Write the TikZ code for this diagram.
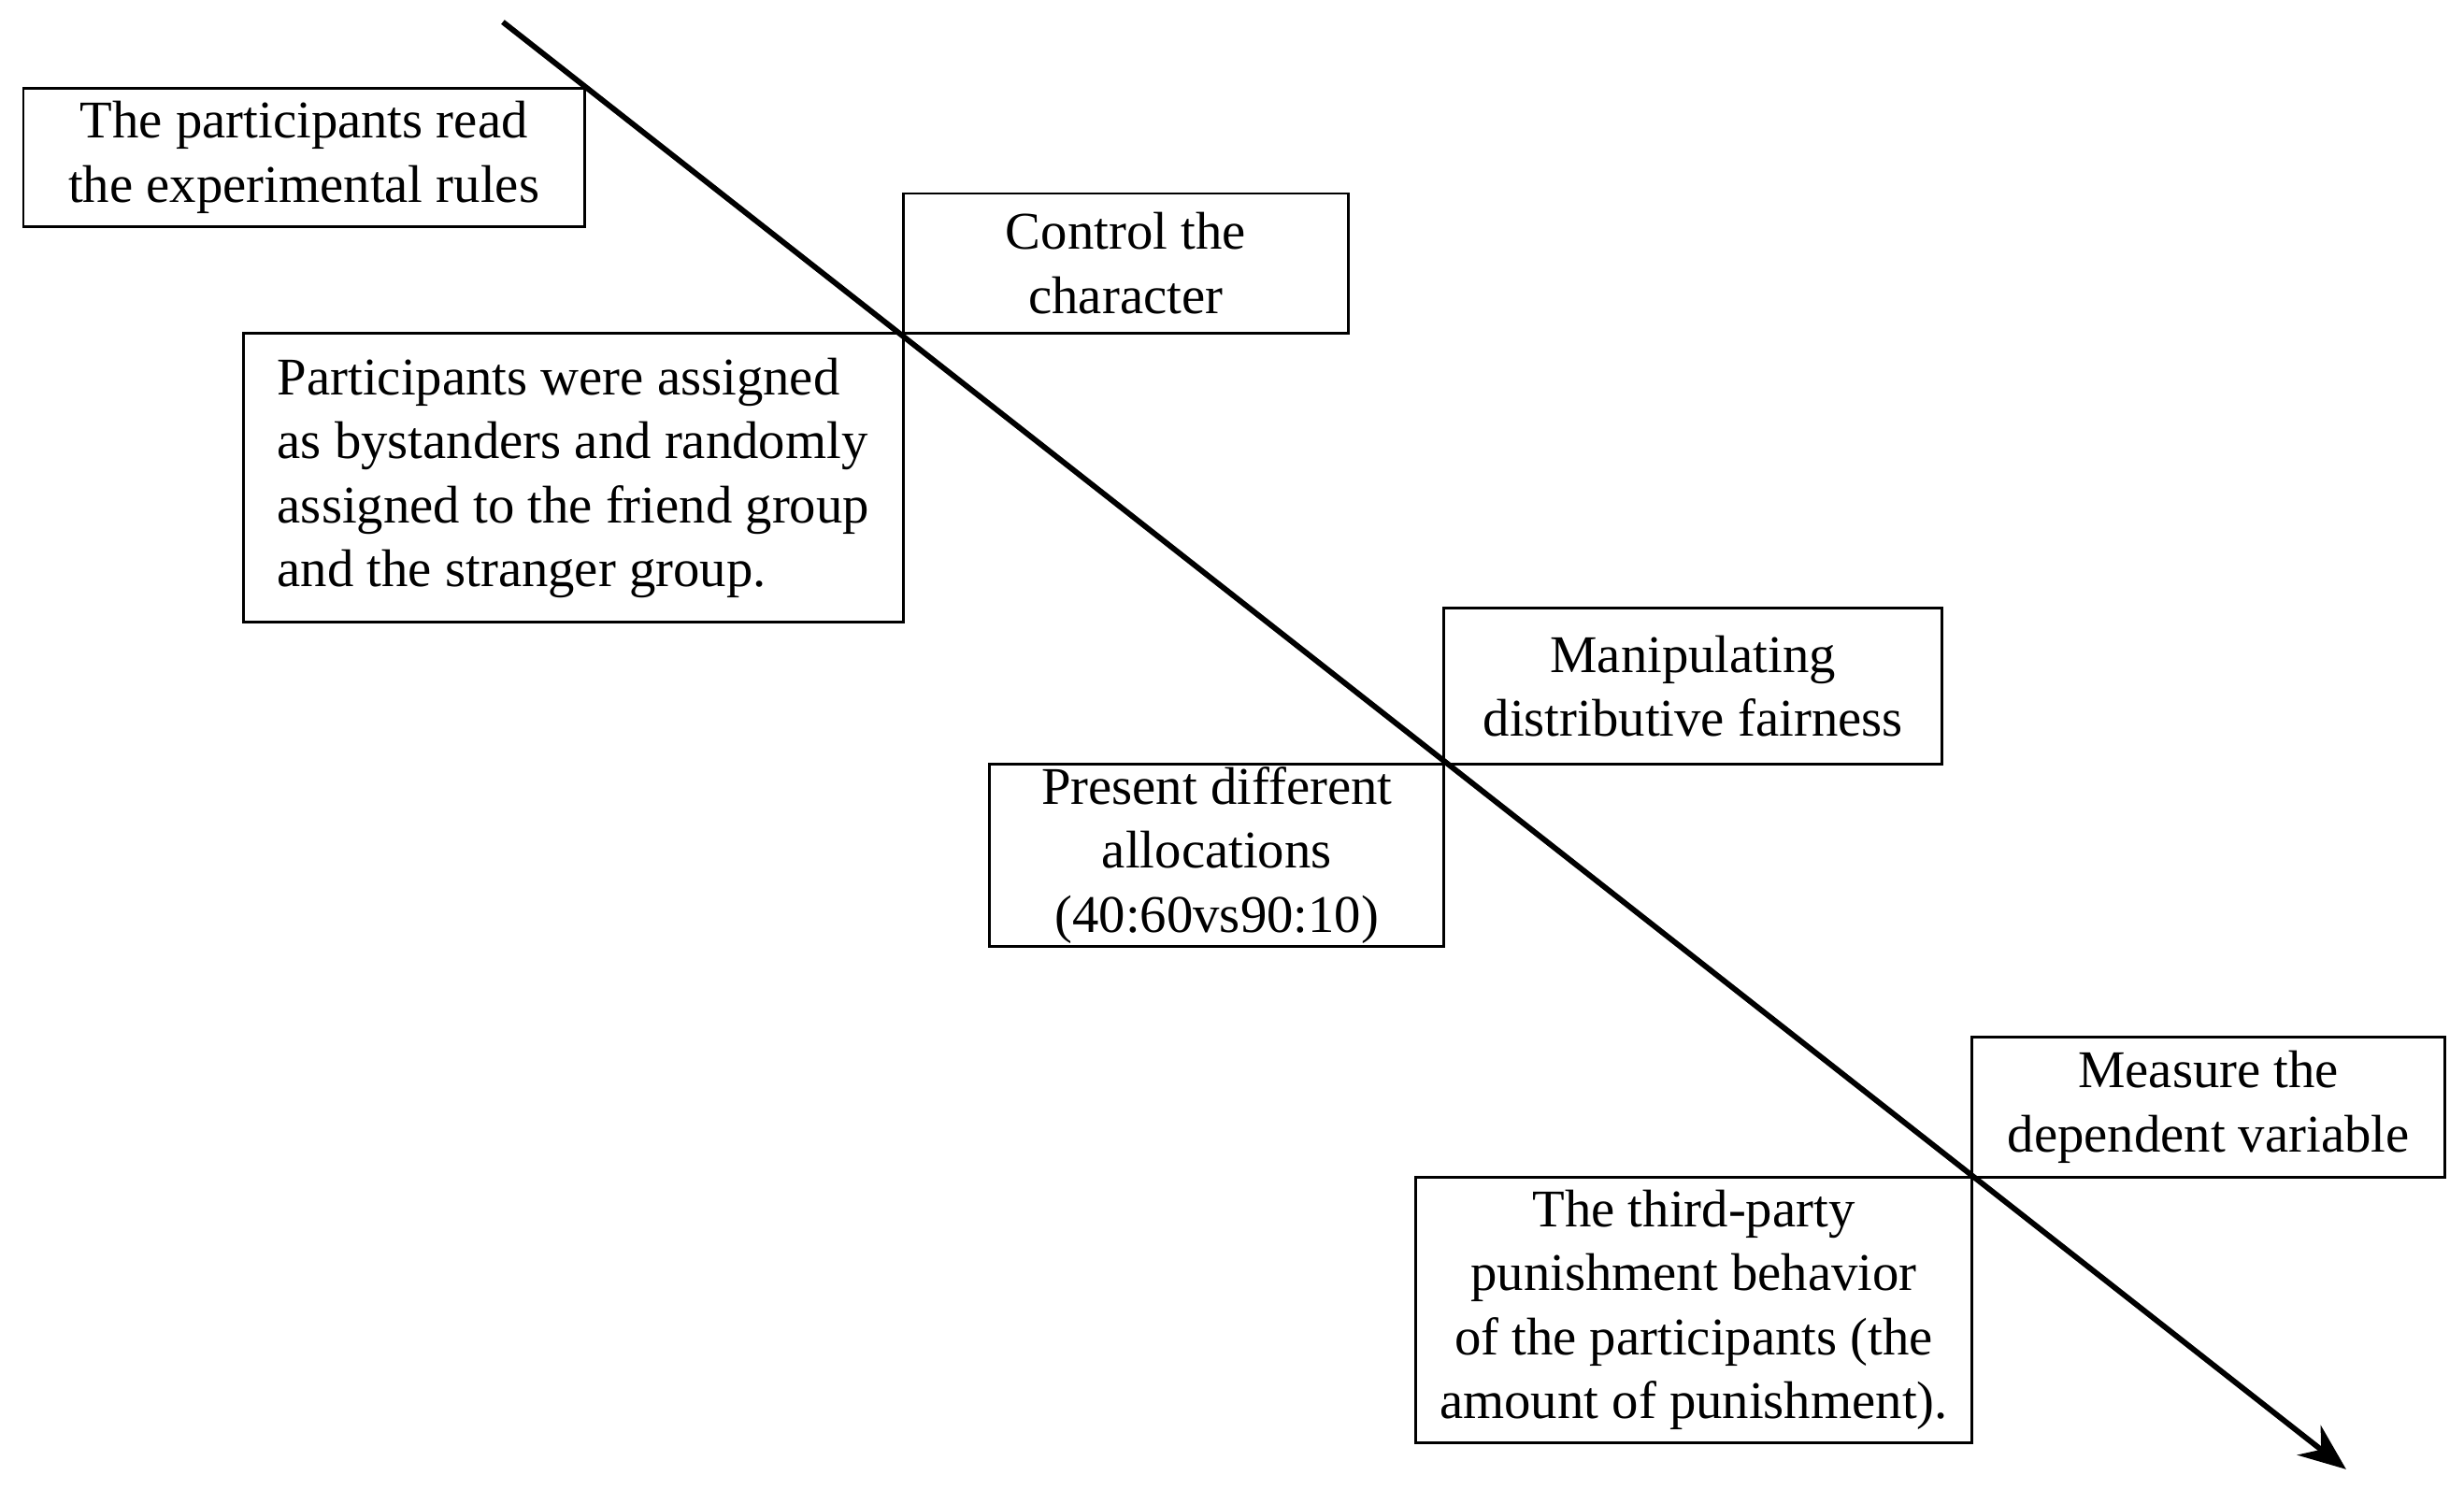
\documentclass[tikz,border=0pt]{standalone}
\usepackage{fontspec}
\setmainfont{Liberation Serif}
\usetikzlibrary{arrows.meta,positioning}

\tikzset{
  stage/.style={draw, line width=0.5pt, inner sep=0pt, align=center,
    font=\fontsize{9.6}{11.6}\selectfont, anchor=south west},
  flow/.style={line width=1pt, -{Stealth[length=3mm,width=2.4mm]}}
}

\begin{document}
\begin{tikzpicture}[x=0.1mm,y=-0.1mm]
\useasboundingbox (0,0) rectangle (1568,957);

\node[stage, minimum width=35.7mm, minimum height=8.8mm] (rules) at (14,145)
  {The participants read\\the experimental rules};
\node[stage, minimum width=28.3mm, minimum height=8.9mm] (role) at (574,213)
  {Control the\\character};
\node[stage, minimum width=42mm, minimum height=18.4mm, align=left] (assign) at (154,397)
  {Participants were assigned\\as bystanders and randomly\\assigned to the friend group\\and the stranger group.};
\node[stage, minimum width=31.7mm, minimum height=9.9mm] (fair) at (918,487)
  {Manipulating\\distributive fairness};
\node[stage, minimum width=28.9mm, minimum height=11.6mm] (alloc) at (629,603)
  {Present different\\allocations\\(40:60vs90:10)};
\node[stage, minimum width=30.1mm, minimum height=8.9mm] (measure) at (1254,750)
  {Measure the\\dependent variable};
\node[stage, minimum width=35.4mm, minimum height=16.9mm] (punish) at (900,919)
  {The third-party\\punishment behavior\\of the participants (the\\amount of punishment).};

% time line
\coordinate (start) at (320,14);
\coordinate (end) at (1493,935);
\draw[flow] (start) -- (end);
\end{tikzpicture}
\end{document}
